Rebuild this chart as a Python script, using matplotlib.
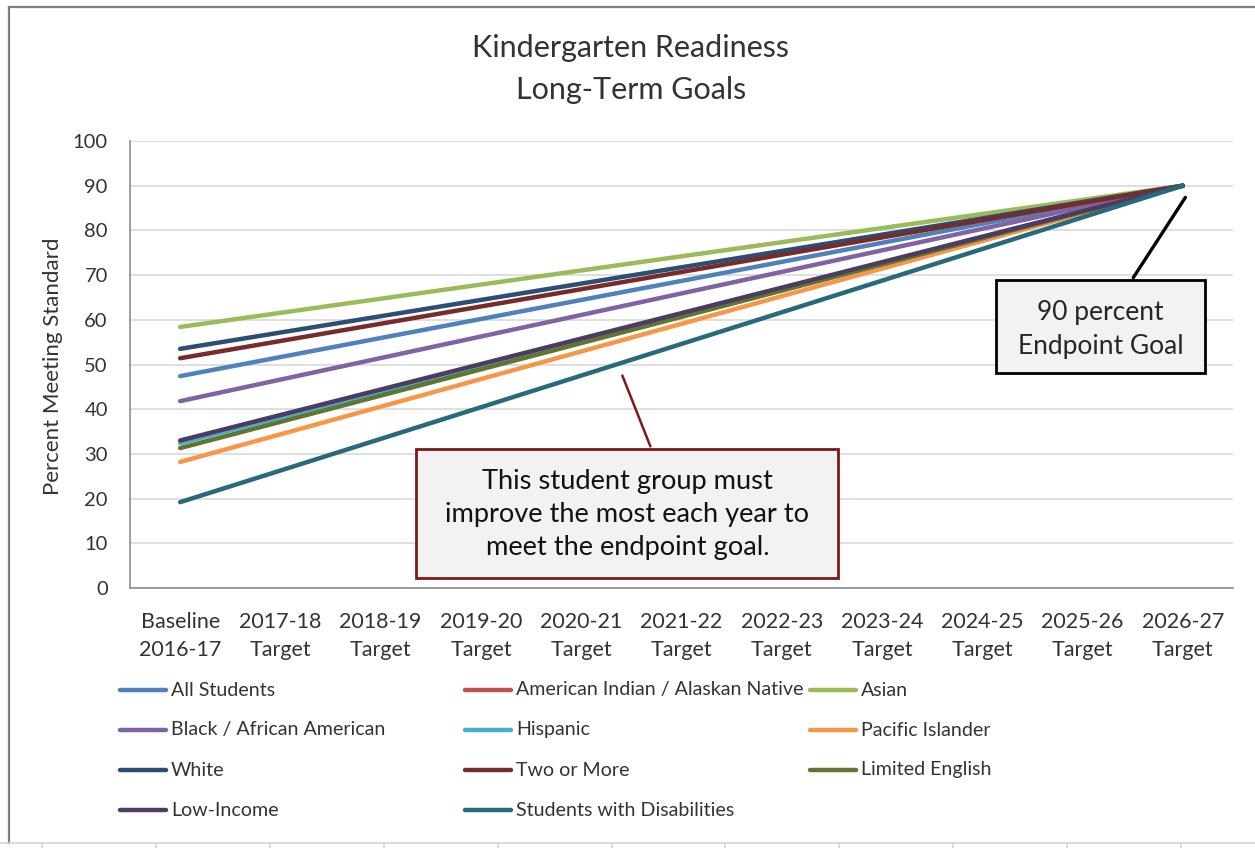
import matplotlib.pyplot as plt
from matplotlib.lines import Line2D
from matplotlib.patches import Rectangle

plt.rcParams['font.family'] = ['Lato', 'DejaVu Sans']

# school years on the x axis
categories = ['Baseline\n2016-17', '2017-18\nTarget', '2018-19\nTarget', '2019-20\nTarget',
              '2020-21\nTarget', '2021-22\nTarget', '2022-23\nTarget', '2023-24\nTarget',
              '2024-25\nTarget', '2025-26\nTarget', '2026-27\nTarget']

groups = ['All Students', 'American Indian / Alaskan Native', 'Asian',
          'Black / African American', 'Hispanic', 'Pacific Islander',
          'White', 'Two or More', 'Limited English',
          'Low-Income', 'Students with Disabilities']

# baseline percent meeting standard (American Indian line not visible in the chart)
baseline = [47.4, float('nan'), 58.4,
            41.8, 32.4, 28.2,
            53.5, 51.4, 31.3,
            33.0, 19.2]
endpoint_goal = 90

colors = ['#4F81BD', '#C0504D', '#9BBB59',
          '#8064A2', '#4BACC6', '#F79646',
          '#2C4D75', '#772C2A', '#5F7530',
          '#4D3B62', '#276A7C']

W, H = 1255, 848


def fx(px):
    return px / W


def fy(py):
    return 1 - py / H


fig = plt.figure(figsize=(W / 100, H / 100), dpi=100)
ax = fig.add_axes([fx(130), fy(588), fx(1233) - fx(130), fy(141) - fy(588)])

x_end = len(categories) - 1
lines = []
for name, start, color in zip(groups, baseline, colors):
    ln, = ax.plot([0, x_end], [start, endpoint_goal], color=color, lw=3.2,
                  solid_capstyle='round', label=name, zorder=3)
    lines.append(ln)

ax.set_xlim(-0.5, x_end + 0.5)
ax.set_ylim(0, 100)
ax.set_xticks(range(len(categories)))
ax.set_xticklabels(categories, linespacing=1.5)
ax.set_yticks(range(0, 101, 10))
ax.yaxis.grid(True, color='#D9D9D9', lw=1.2)
ax.set_axisbelow(True)
ax.tick_params(axis='x', length=0, pad=17, labelsize=15.5, labelcolor='#333333')
ax.tick_params(axis='y', length=0, pad=16, labelsize=14.5, labelcolor='#333333')
for side in ['top', 'right']:
    ax.spines[side].set_visible(False)
for side in ['left', 'bottom']:
    ax.spines[side].set_color('#8C8C8C')
    ax.spines[side].set_linewidth(1.2)

fig.text(fx(631), fy(69), 'Kindergarten Readiness\nLong-Term Goals', ha='center', va='center',
         fontsize=22, linespacing=1.6, color='#333333')
fig.text(fx(53), fy(366), 'Percent Meeting Standard', rotation=90, ha='center', va='center',
         fontsize=16, color='#333333')

# endpoint goal callout
ax.add_patch(Rectangle((8.14, 48.1), 2.08, 20.8, facecolor='#F2F2F2', edgecolor='black',
                       lw=2, zorder=5, clip_on=False))
ax.text(9.18, 57.8, '90 percent\nEndpoint Goal', ha='center', va='center', fontsize=19,
        linespacing=1.42, color='#262626', zorder=6)
ax.annotate('', xy=(10.04, 87.9), xytext=(9.49, 68.9),
            arrowprops=dict(arrowstyle='-', color='black', lw=2.4), zorder=5)

# students with disabilities callout
ax.add_patch(Rectangle((2.35, 2.24), 4.21, 28.86, facecolor='#F2F2F2', edgecolor='#7B1A1A',
                       lw=2, zorder=5, clip_on=False))
ax.text(4.46, 16.4, 'This student group must\nimprove the most each year to\nmeet the endpoint goal.',
        ha='center', va='center', fontsize=19.6, linespacing=1.4, color='#111111', zorder=6)
ax.annotate('', xy=(4.40, 48.1), xytext=(4.70, 31.1),
            arrowprops=dict(arrowstyle='-', color='#7B1A1A', lw=1.8), zorder=5)

# legend laid out row by row like the spreadsheet one
col_x = [120, 465, 810]
for i, ln in enumerate(lines):
    row, col = divmod(i, 3)
    y = fy(690 + 40 * row)
    x0 = col_x[col]
    fig.add_artist(Line2D([fx(x0), fx(x0 + 46)], [y, y], color=ln.get_color(), lw=3.2,
                          solid_capstyle='round', transform=fig.transFigure))
    fig.text(fx(x0 + 51), y, ln.get_label(), ha='left', va='center', fontsize=14.1,
             color='#333333')

# chart frame and sheet gridline below it
fig.add_artist(Line2D([fx(9), fx(9)], [fy(843), fy(7)], color='#7F7F7F', lw=1.6,
                      transform=fig.transFigure))
fig.add_artist(Line2D([fx(9), fx(W)], [fy(7), fy(7)], color='#7F7F7F', lw=1.6,
                      transform=fig.transFigure))
fig.add_artist(Line2D([0, 1], [fy(843), fy(843)], color='#D4D4D4', lw=1.2,
                      transform=fig.transFigure))
for k in range(11):
    cx = 42 + 113.9 * k
    fig.add_artist(Line2D([fx(cx), fx(cx)], [fy(843), 0], color='#D4D4D4', lw=1.2,
                          transform=fig.transFigure))

fig.savefig('out.png', dpi=100, facecolor='white')
